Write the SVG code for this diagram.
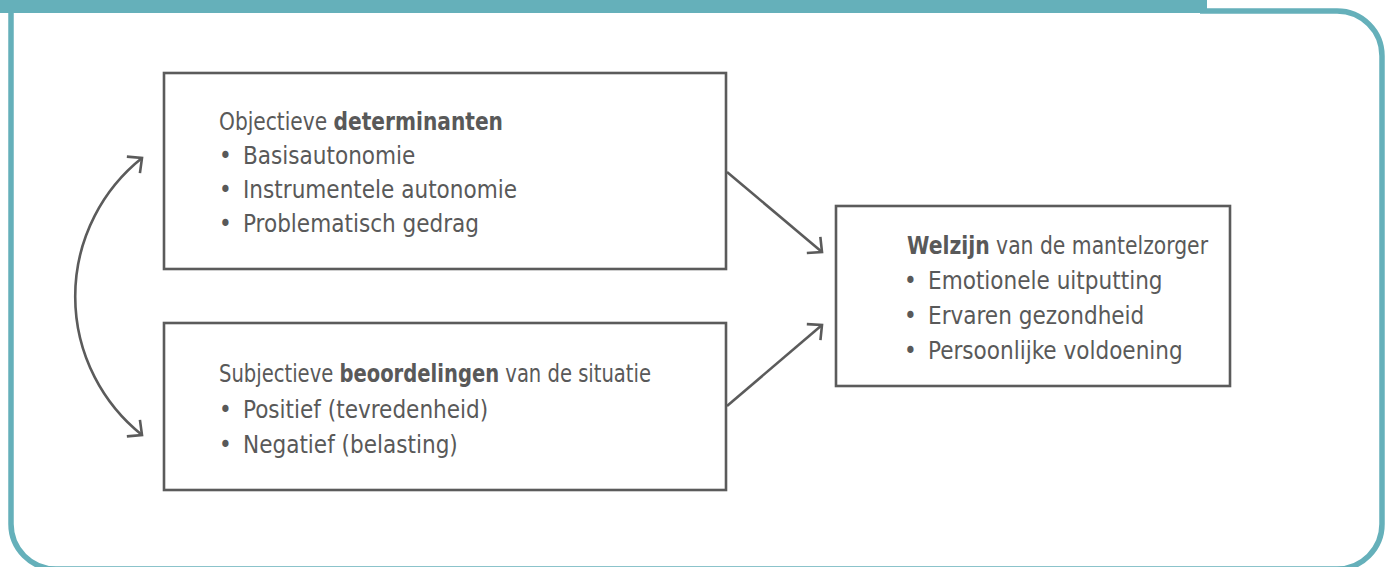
<svg xmlns="http://www.w3.org/2000/svg" width="1389" height="567" viewBox="0 0 1389 567">
<defs>
<style>
.frame{fill:none;stroke:#65b0ba;stroke-width:5.5}
.box{fill:#fff;stroke:#5b5b5b;stroke-width:2.6}
.conn{fill:none;stroke:#5b5b5b;stroke-width:2.6}
text{font-family:"Liberation Sans Narrow","DejaVu Sans Condensed","Liberation Sans",sans-serif;font-size:24px;fill:#595959}
.b{font-weight:bold}
</style>
<marker id="ah" markerUnits="userSpaceOnUse" markerWidth="30" markerHeight="30" viewBox="-15 -15 30 30" refX="0" refY="0" orient="auto-start-reverse">
<path d="M-11,-10.5 L0,0 L-11,10.5" fill="none" stroke="#5b5b5b" stroke-width="2.6"/>
</marker>
</defs>
<rect width="1389" height="567" fill="#fff"/>
<g id="frame">
<rect x="0" y="0" width="1207" height="13" fill="#65b0ba"/>
<path class="frame" d="M11,0 V524 A45,45 0 0 0 56,569 H1337 A45,45 0 0 0 1382,524 V56 A45,45 0 0 0 1337,11 H1200"/>
</g>
<g id="connectors">
<path class="conn" d="M142,435 A177,177 0 0 1 142,158" marker-start="url(#ah)" marker-end="url(#ah)"/>
<path class="conn" d="M727,172 L822,252" marker-end="url(#ah)"/>
<path class="conn" d="M727,406 L822,325" marker-end="url(#ah)"/>
</g>
<g id="node-objectief">
<rect class="box" x="164" y="73" width="562" height="196"/>
<text x="219" y="130" textLength="284" lengthAdjust="spacingAndGlyphs">Objectieve <tspan class="b">determinanten</tspan></text>
<text x="219" y="164">•</text><text x="243" y="164">Basisautonomie</text>
<text x="219" y="198">•</text><text x="243" y="198">Instrumentele autonomie</text>
<text x="219" y="232">•</text><text x="243" y="232">Problematisch gedrag</text>
</g>
<g id="node-subjectief">
<rect class="box" x="164" y="323" width="562" height="167"/>
<text x="219" y="382" textLength="432" lengthAdjust="spacingAndGlyphs">Subjectieve <tspan class="b">beoordelingen</tspan> van de situatie</text>
<text x="219" y="418">•</text><text x="243" y="418">Positief (tevredenheid)</text>
<text x="219" y="453">•</text><text x="243" y="453">Negatief (belasting)</text>
</g>
<g id="node-welzijn">
<rect class="box" x="836" y="206" width="394" height="180"/>
<text x="907" y="254" textLength="301" lengthAdjust="spacingAndGlyphs"><tspan class="b">Welzijn</tspan> van de mantelzorger</text>
<text x="904" y="289">•</text><text x="928" y="289">Emotionele uitputting</text>
<text x="904" y="324">•</text><text x="928" y="324">Ervaren gezondheid</text>
<text x="904" y="359">•</text><text x="928" y="359">Persoonlijke voldoening</text>
</g>
</svg>
